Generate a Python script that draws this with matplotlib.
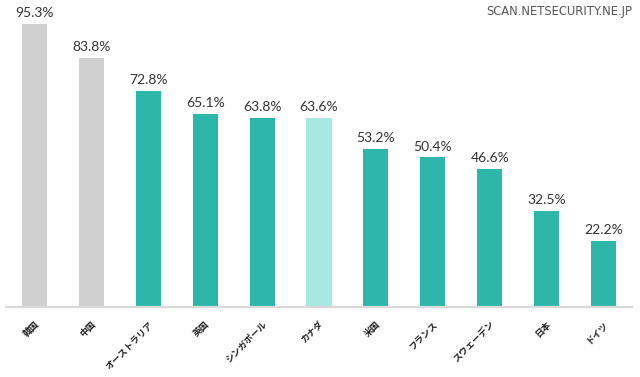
import matplotlib.pyplot as plt

countries = ["韓国", "中国", "オーストラリア", "英国", "シンガポール", "カナダ",
             "米国", "フランス", "スウェーデン", "日本", "ドイツ"]
values = [95.3, 83.8, 72.8, 65.1, 63.8, 63.6, 53.2, 50.4, 46.6, 32.5, 22.2]
colors = ["#d0d0d0", "#d0d0d0", "#2db7aa", "#2db7aa", "#2db7aa", "#a8e8e2",
          "#2db7aa", "#2db7aa", "#2db7aa", "#2db7aa", "#2db7aa"]

fig = plt.figure(figsize=(6.4, 3.77), dpi=100)
ax = fig.add_axes([6 / 640, 70 / 377, 626 / 640, 307 / 377])

x = range(len(values))
ax.bar(x, values, width=0.44, color=colors, zorder=2)
for i, v in enumerate(values):
    ax.text(i, v + 1.6, f"{v:.1f}%", ha="center", va="bottom",
            fontsize=10, color="#333333", family=["Lato", "DejaVu Sans"])

ax.set_xlim(-0.5, len(values) - 0.5)
ax.set_ylim(0, 103.4)
ax.set_xticks(list(x))
ax.set_xticklabels(countries, rotation=45, ha="right", va="top",
                   rotation_mode="anchor", fontsize=6.5, fontweight="bold",
                   family=["Noto Sans CJK JP", "DejaVu Sans"], color="#222222")
ax.tick_params(axis="x", length=0, pad=9)
ax.set_yticks([])
for s in ["top", "right", "left"]:
    ax.spines[s].set_visible(False)
ax.spines["bottom"].set_color("#d9d9d9")
ax.spines["bottom"].set_linewidth(1.6)

fig.text(632 / 640, 1 - 12 / 377, "SCAN.NETSECURITY.NE.JP", ha="right", va="center",
         fontsize=8.3, color="#555555", family=["DejaVu Sans"])

fig.savefig("out.png", dpi=100)
